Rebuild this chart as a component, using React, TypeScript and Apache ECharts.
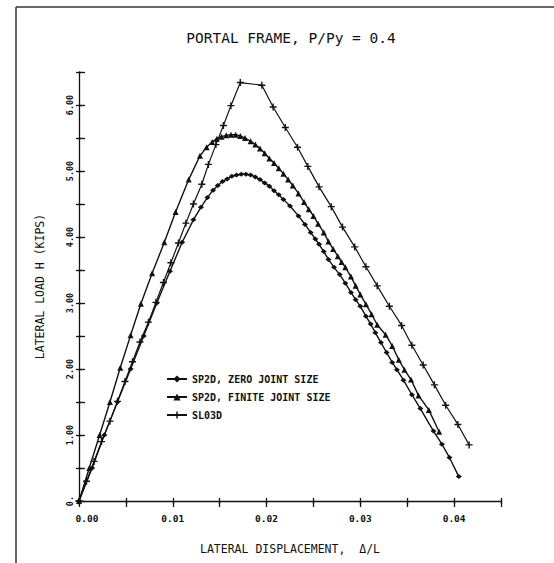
import React, { useEffect, useRef } from "react";
import * as echarts from "echarts";

const titleText = "PORTAL FRAME, P/Py = 0.4";
const xAxisTitle = "LATERAL DISPLACEMENT,  Δ/L";
const yAxisTitle = "LATERAL LOAD H (KIPS)";
const xTickLabels = ["0.00", "0.01", "0.02", "0.03", "0.04"];
const yTickLabels = ["0.", "1.00", "2.00", "3.00", "4.00", "5.00", "6.00"];
const seriesNames = ["SP2D, ZERO JOINT SIZE", "SP2D, FINITE JOINT SIZE", "SL03D"];

const zeroJoint: number[][] = [
  [0, 0], [0.0014, 0.5], [0.0027, 1.0], [0.0041, 1.5], [0.0055, 2.0], [0.0069, 2.5],
  [0.0083, 3.0], [0.0097, 3.48], [0.011, 3.92], [0.0122, 4.26], [0.013, 4.45],
  [0.0137, 4.6], [0.0143, 4.71], [0.0148, 4.78], [0.0153, 4.84], [0.0158, 4.88],
  [0.0163, 4.92], [0.0168, 4.94], [0.0173, 4.95], [0.0178, 4.95], [0.0183, 4.94],
  [0.0188, 4.91], [0.0193, 4.87], [0.0198, 4.82], [0.0203, 4.77], [0.0208, 4.7],
  [0.0213, 4.64], [0.0218, 4.57], [0.0225, 4.47], [0.0234, 4.32], [0.0241, 4.19],
  [0.0247, 4.07], [0.0252, 3.97], [0.0256, 3.89], [0.0261, 3.78], [0.0266, 3.66],
  [0.0272, 3.54], [0.0278, 3.43], [0.0284, 3.3], [0.029, 3.16], [0.0295, 3.05],
  [0.03, 2.95], [0.0306, 2.8], [0.0311, 2.68], [0.0316, 2.55], [0.0322, 2.4],
  [0.0328, 2.25], [0.0334, 2.1], [0.0339, 1.99], [0.0346, 1.83], [0.0355, 1.61],
  [0.0364, 1.4], [0.0378, 1.06], [0.0387, 0.86], [0.0395, 0.66], [0.0405, 0.37],
];

const finiteJoint: number[][] = [
  [0, 0], [0.0011, 0.5], [0.0022, 1.0], [0.0033, 1.5], [0.0044, 2.02], [0.0055, 2.51],
  [0.0066, 2.99], [0.0078, 3.45], [0.0091, 3.92], [0.0103, 4.38], [0.0117, 4.87],
  [0.0129, 5.23], [0.0136, 5.36], [0.0142, 5.44], [0.0147, 5.49], [0.0152, 5.52],
  [0.0157, 5.54], [0.0162, 5.55], [0.0167, 5.55], [0.0172, 5.53], [0.0177, 5.5],
  [0.0183, 5.45], [0.0188, 5.4], [0.0193, 5.34], [0.0198, 5.27], [0.0203, 5.19],
  [0.0208, 5.12], [0.0213, 5.04], [0.0218, 4.96], [0.0223, 4.87], [0.0228, 4.78],
  [0.0234, 4.66], [0.024, 4.53], [0.0245, 4.42], [0.025, 4.32], [0.0255, 4.2],
  [0.0261, 4.07], [0.0266, 3.93], [0.0271, 3.82], [0.0276, 3.71], [0.028, 3.62],
  [0.0284, 3.54], [0.029, 3.4], [0.0295, 3.26], [0.03, 3.13], [0.0306, 2.98],
  [0.0312, 2.83], [0.0318, 2.67], [0.0327, 2.52], [0.0334, 2.35], [0.0341, 2.14],
  [0.0347, 1.99], [0.0354, 1.84], [0.0362, 1.6], [0.0373, 1.38], [0.0384, 1.05],
];

const sl03d: number[][] = [
  [0, 0], [0.0008, 0.3], [0.0016, 0.6], [0.0024, 0.9], [0.0033, 1.21], [0.0041, 1.51],
  [0.0049, 1.81], [0.0057, 2.11], [0.0065, 2.41], [0.0074, 2.71], [0.0082, 3.01],
  [0.009, 3.31], [0.0098, 3.61], [0.0106, 3.91], [0.0114, 4.21], [0.0122, 4.5],
  [0.0131, 4.8], [0.0138, 5.1], [0.0146, 5.4], [0.0154, 5.69], [0.0162, 5.99],
  [0.0172, 6.34], [0.0195, 6.3], [0.0207, 5.97], [0.022, 5.66], [0.0233, 5.36],
  [0.0244, 5.07], [0.0256, 4.76], [0.0269, 4.46], [0.0281, 4.15], [0.0294, 3.85],
  [0.0306, 3.55], [0.0318, 3.26], [0.0331, 2.95], [0.0344, 2.66], [0.0355, 2.36],
  [0.0367, 2.06], [0.0379, 1.76], [0.0391, 1.45], [0.0404, 1.16], [0.0416, 0.85],
];

const FONT = '"DejaVu Sans Mono", monospace';
const INK = "#111";
const PLUS = "path://M4,0 H6 V4 H10 V6 H6 V10 H4 V6 H0 V4 H4 Z";

export default function App() {
  const ref = useRef<HTMLDivElement>(null);

  useEffect(() => {
    document.body.style.margin = "0";
    const chart = echarts.init(ref.current!, undefined, { renderer: "svg" });

    const xFmt = (v: number) => {
      const k = v * 100;
      if (Math.abs(k - Math.round(k)) < 1e-6) {
        const i = Math.round(k);
        const s = xTickLabels[i] ?? "";
        return i === 0 ? "{first|" + s + "}" : s;
      }
      return "";
    };
    const yFmt = (v: number) => {
      if (Math.abs(v - Math.round(v)) < 1e-6) return yTickLabels[Math.round(v)] ?? "";
      return "";
    };

    const xBase = { type: "value", min: 0, max: 0.045, interval: 0.005, splitLine: { show: false } };
    const yBase = { type: "value", min: 0, max: 6.5, interval: 0.5, splitLine: { show: false } };
    const line = { show: true, lineStyle: { color: INK, width: 1.3 } };
    const tickFont = { fontFamily: FONT, fontSize: 9.5, fontWeight: "bold", color: INK };

    const option: any = {
      animation: false,
      backgroundColor: "#fff",
      title: {
        text: titleText,
        left: 286,
        top: 25,
        textAlign: "center",
        textStyle: { fontFamily: FONT, fontSize: 14.5, fontWeight: "normal", color: INK },
      },
      grid: { left: 79, right: 53, top: 72, bottom: 62, containLabel: false, outerBoundsMode: "none" },
      legend: {
        orient: "vertical",
        left: 161,
        top: 369,
        itemWidth: 20,
        itemHeight: 9,
        itemGap: 8,
        textStyle: { fontFamily: FONT, fontSize: 10, fontWeight: "bold", color: INK },
        data: seriesNames,
      },
      xAxis: [
        {
          ...xBase,
          position: "bottom",
          axisLine: line,
          axisTick: { show: true, inside: false, length: 3, lineStyle: { color: INK, width: 1.3 } },
          axisLabel: {
            formatter: xFmt,
            margin: 12,
            ...tickFont,
            rich: { first: { ...tickFont, padding: [0, 0, 0, 16] } },
          },
          name: xAxisTitle,
          nameLocation: "middle",
          nameGap: 42,
          nameTextStyle: { fontFamily: FONT, fontSize: 11.5, color: INK },
        },
        {
          ...xBase,
          position: "bottom",
          axisLine: { show: false },
          axisTick: { show: true, inside: true, length: 3, lineStyle: { color: INK, width: 1.3 } },
          axisLabel: { show: false },
        },
        {
          ...xBase,
          position: "top",
          axisLine: { show: false },
          axisTick: { show: true, inside: true, length: 6, lineStyle: { color: INK, width: 1.3 } },
          axisLabel: { show: false },
        },
      ],
      yAxis: [
        {
          ...yBase,
          position: "left",
          axisLine: line,
          axisTick: { show: true, inside: false, length: 3, lineStyle: { color: INK, width: 1.3 } },
          axisLabel: {
            formatter: yFmt, rotate: 90, margin: 5, fontFamily: FONT, fontSize: 8.5, fontWeight: "bold", color: INK,
          },
          name: yAxisTitle,
          nameLocation: "middle",
          nameRotate: 90,
          nameGap: 33,
          nameTextStyle: { fontFamily: FONT, fontSize: 11.5, color: INK },
        },
        {
          ...yBase,
          position: "left",
          axisLine: { show: false },
          axisTick: { show: true, inside: true, length: 3, lineStyle: { color: INK, width: 1.3 } },
          axisLabel: { show: false },
        },
        {
          ...yBase,
          position: "right",
          axisLine: { show: false },
          axisTick: { show: true, inside: false, length: 6, lineStyle: { color: INK, width: 1.3 } },
          axisLabel: { show: false },
        },
      ],
      graphic: [
        { type: "line", shape: { x1: 16, y1: 7, x2: 554, y2: 7 }, style: { stroke: "#333", lineWidth: 1.5 } },
        { type: "line", shape: { x1: 16, y1: 7, x2: 16, y2: 563 }, style: { stroke: "#333", lineWidth: 1.5 } },
      ],
      series: [
        {
          name: seriesNames[0],
          type: "line",
          data: zeroJoint,
          xAxisIndex: 0,
          yAxisIndex: 0,
          symbol: "diamond",
          symbolSize: [6, 5],
          showAllSymbol: true,
          lineStyle: { color: INK, width: 1.4 },
          itemStyle: { color: INK, borderWidth: 0 },
        },
        {
          name: seriesNames[1],
          type: "line",
          data: finiteJoint,
          xAxisIndex: 0,
          yAxisIndex: 0,
          symbol: "triangle",
          symbolSize: 6,
          showAllSymbol: true,
          lineStyle: { color: INK, width: 1.4 },
          itemStyle: { color: INK, borderWidth: 0 },
        },
        {
          name: seriesNames[2],
          type: "line",
          data: sl03d,
          xAxisIndex: 0,
          yAxisIndex: 0,
          symbol: PLUS,
          symbolSize: 7,
          showAllSymbol: true,
          lineStyle: { color: INK, width: 1.2 },
          itemStyle: { color: INK, borderWidth: 0 },
        },
      ],
    };

    chart.setOption(option);
    return () => chart.dispose();
  }, []);

  return (
    <div
      ref={ref}
      style={{ position: "absolute", left: 0, top: 0, width: 554, height: 563, background: "#fff" }}
    />
  );
}
